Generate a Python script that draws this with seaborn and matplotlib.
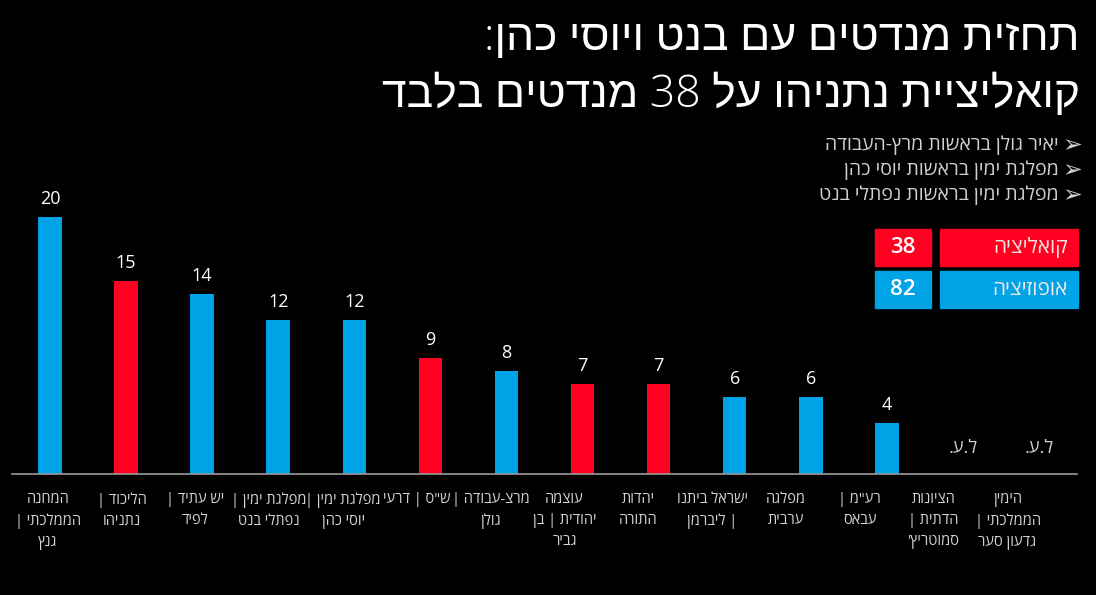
import re
import matplotlib
matplotlib.use("Agg")
import matplotlib.pyplot as plt
import seaborn as sns
import pandas as pd
from matplotlib.patches import Rectangle

def rtl(s):
    """Convert logical-order Hebrew text to visual order (per line)."""
    out = []
    for line in s.split("\n"):
        r = line[::-1]
        r = re.sub(r"[0-9]+", lambda m: m.group(0)[::-1], r)
        out.append(r)
    return "\n".join(out)

# ---------------- data ----------------
parties = [
    "המחנה\nהממלכתי |\nגנץ",
    "הליכוד |\nנתניהו",
    "יש עתיד |\nלפיד",
    "מפלגת ימין |\nנפתלי בנט",
    "מפלגת ימין |\nיוסי כהן",
    "ש\"ס | דרעי",
    "מרצ-עבודה |\nגולן",
    "עוצמה\nיהודית | בן\nגביר",
    "יהדות\nהתורה",
    "ישראל ביתנו\n| ליברמן",
    "מפלגה\nערבית",
    "רע\"מ |\nעבאס",
    "הציונות\nהדתית |\nסמוטריץ'",
    "הימין\nהממלכתי |\nגדעון סער",
]
seats = [20, 15, 14, 12, 12, 9, 8, 7, 7, 6, 6, 4, 0, 0]
bloc = ["אופוזיציה", "קואליציה", "אופוזיציה", "אופוזיציה", "אופוזיציה",
        "קואליציה", "אופוזיציה", "קואליציה", "קואליציה", "אופוזיציה",
        "אופוזיציה", "אופוזיציה", "אופוזיציה", "קואליציה"]
below_threshold = [False] * 12 + [True, True]
na_label = "ל.ע."

title = "תחזית מנדטים עם בנט ויוסי כהן:\nקואליציית נתניהו על 38 מנדטים בלבד"
bullets = ["יאיר גולן בראשות מרץ-העבודה",
           "מפלגת ימין בראשות יוסי כהן",
           "מפלגת ימין בראשות נפתלי בנט"]
legend_names = ["קואליציה", "אופוזיציה"]

RED = "#ff0021"
BLUE = "#00a3e6"
palette = {"קואליציה": RED, "אופוזיציה": BLUE}

coal_total = sum(v for v, b in zip(seats, bloc) if b == "קואליציה")
opp_total = sum(v for v, b in zip(seats, bloc) if b == "אופוזיציה")

df = pd.DataFrame({"party": [rtl(p) for p in parties], "seats": seats, "bloc": bloc})

# ---------------- figure ----------------
sns.set_theme(style="white")
FONT = ["Open Sans", "Liberation Sans", "DejaVu Sans"]
plt.rcParams["font.family"] = FONT

W, H = 1096, 595
fig = plt.figure(figsize=(W / 100, H / 100), dpi=100, facecolor="black")

ax_left = 12 / W
ax_w = 1065 / W
ax_bottom = 1 - 474 / H
unit = 12.85
ymax = 25
ax_h = ymax * unit / H
ax = fig.add_axes([ax_left, ax_bottom, ax_w, ax_h])
ax.set_facecolor("black")

sns.barplot(data=df, x="party", y="seats", hue="bloc", palette=palette,
            dodge=False, width=0.31, legend=False, ax=ax, saturation=1,
            linewidth=0, edgecolor="none")

n = len(parties)
ax.set_xlim(-0.5, n - 0.5)
ax.set_ylim(0, ymax)
ax.set_xlabel("")
ax.set_ylabel("")
ax.set_yticks([])
for s in ["top", "right", "left"]:
    ax.spines[s].set_visible(False)
ax.spines["bottom"].set_color("#9a9a9a")
ax.spines["bottom"].set_linewidth(1.2)

# category labels sit on a slightly tighter pitch than the bars, as in the source
ax.set_xticks([-0.03 + 0.9705 * i for i in range(n)])
ax.set_xticklabels([rtl(p) for p in parties], color="#d4d4d4", fontsize=10.5,
                   linespacing=1.55, va="top")
ax.tick_params(axis="x", which="major", length=0, pad=13)
ax.set_xticks([i - 0.5 for i in range(n + 1)], minor=True)
ax.tick_params(axis="x", which="minor", length=5, width=1.2, color="#9a9a9a",
               direction="out")

for i, (v, na) in enumerate(zip(seats, below_threshold)):
    if na:
        ax.text(i, 2.0, rtl(na_label), ha="center", va="center",
                color="#cfcfcf", fontsize=13)
    else:
        ax.annotate(str(v), (i, v), xytext=(0, 6.5), textcoords="offset points",
                    ha="center", va="bottom", color="white", fontsize=13)

# ---------------- title & bullets ----------------
fig.text(1080 / W, 1 - 17 / H, rtl(title), ha="right", va="top", color="white",
         fontsize=32, fontweight="light", linespacing=1.36)

for k, b in enumerate(bullets):
    y = 1 - (145 + 25 * k) / H
    fig.text(1082 / W, y, "➢", ha="right", va="center", color="#d0d0d0",
             fontsize=17, family=["DejaVu Sans"])
    fig.text(1059 / W, y, rtl(b), ha="right", va="center", color="#d0d0d0",
             fontsize=14)

# ---------------- bloc totals boxes ----------------
boxes = [(229, RED, legend_names[0], coal_total),
         (271, BLUE, legend_names[1], opp_total)]
for top, col, name, total in boxes:
    hgt = 37
    fig.patches.append(Rectangle((940 / W, 1 - (top + hgt) / H), 138 / W, hgt / H,
                                 transform=fig.transFigure, color=col))
    fig.patches.append(Rectangle((875 / W, 1 - (top + hgt) / H), 56 / W, hgt / H,
                                 transform=fig.transFigure, color=col))
    yc = 1 - (top + hgt / 2) / H
    fig.text(1068 / W, yc, rtl(name), ha="right", va="center", color="#f3e6e6",
             fontsize=15)
    fig.text(903 / W, yc, str(total), ha="center", va="center", color="white",
             fontsize=16, fontweight="semibold")

fig.savefig("out.png", dpi=100, facecolor="black")
